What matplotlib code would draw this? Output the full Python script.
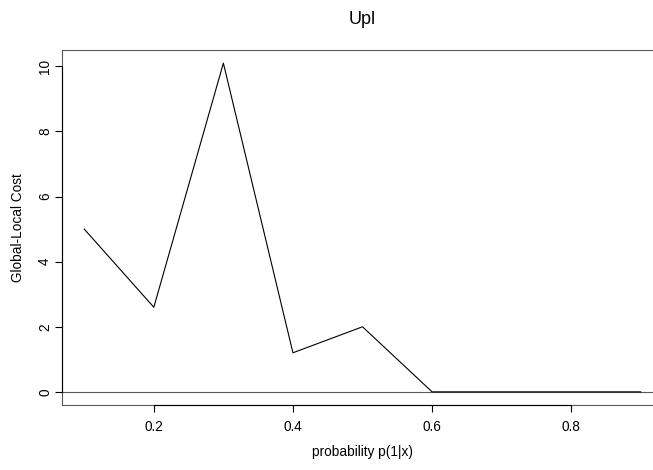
"""Global-local cost against probability p(1|x), R base-graphics look.
Output: out.png
"""

import numpy as np
import matplotlib
matplotlib.use("Agg")
import matplotlib.pyplot as plt

plt.rcParams['font.family'] = ['Liberation Sans', 'DejaVu Sans']

TITLE = "Upl"
X_LABEL = "probability p(1|x)"
Y_LABEL = "Global-Local Cost"

prob = [0.1, 0.2, 0.3, 0.4, 0.5, 0.6, 0.7, 0.8, 0.9]
cost = [5.0, 2.6, 10.1, 1.2, 2.0, 0.0, 0.0, 0.0, 0.0]
x_ticks = [0.2, 0.4, 0.6, 0.8]
y_ticks = [0, 2, 4, 6, 8, 10]

W, H = 653, 470
BOX_COLOR = '#5a5a5a'
FS = 9.8


def r_range(vals):
    """R's default axis extension: 4% on each side."""
    lo, hi = min(vals), max(vals)
    pad = 0.04 * (hi - lo)
    return lo - pad, hi + pad


def main():
    fig = plt.figure(figsize=(W / 100, H / 100), dpi=100)
    # the source plot was cropped on the right, so the box runs past the edge
    left, right, top, bottom = 62, 663, 50, 405
    ax = fig.add_axes([left / W, 1 - bottom / H,
                       (right - left) / W, (bottom - top) / H])

    ax.plot(prob, cost, color='black', lw=0.8, zorder=3)
    ax.axhline(0, color=BOX_COLOR, lw=0.8, zorder=2)

    ax.set_xlim(*r_range(prob))
    ax.set_ylim(*r_range(cost))

    for s in ax.spines.values():
        s.set_color(BOX_COLOR)
        s.set_linewidth(0.8)

    # R draws the axis line only between the first and last tick
    ax.plot([x_ticks[0], x_ticks[-1]], [0, 0], color='black', lw=0.8,
            transform=ax.get_xaxis_transform(), clip_on=False, zorder=4)
    ax.plot([0, 0], [y_ticks[0], y_ticks[-1]], color='black', lw=0.8,
            transform=ax.get_yaxis_transform(), clip_on=False, zorder=4)

    ax.set_xticks(x_ticks)
    ax.set_xticklabels([f'{v:g}' for v in x_ticks])
    ax.set_yticks(y_ticks)
    ax.set_yticklabels([str(v) for v in y_ticks], rotation=90, va='center')
    ax.tick_params(axis='both', direction='out', length=5, width=0.8,
                   color='black', labelsize=FS)
    ax.tick_params(axis='x', pad=5.6)
    ax.tick_params(axis='y', pad=2.2)

    fig.text((left + right) / 2 / W, 1 - 20 / H, TITLE, fontsize=13,
             ha='center', va='center')
    fig.text((left + right) / 2 / W, 1 - 452 / H, X_LABEL, fontsize=FS,
             ha='center', va='center')
    fig.text(18 / W, 1 - (top + bottom) / 2 / H, Y_LABEL, fontsize=FS,
             ha='center', va='center', rotation=90)

    fig.savefig('out.png', dpi=100)
    plt.close(fig)


if __name__ == '__main__':
    main()
